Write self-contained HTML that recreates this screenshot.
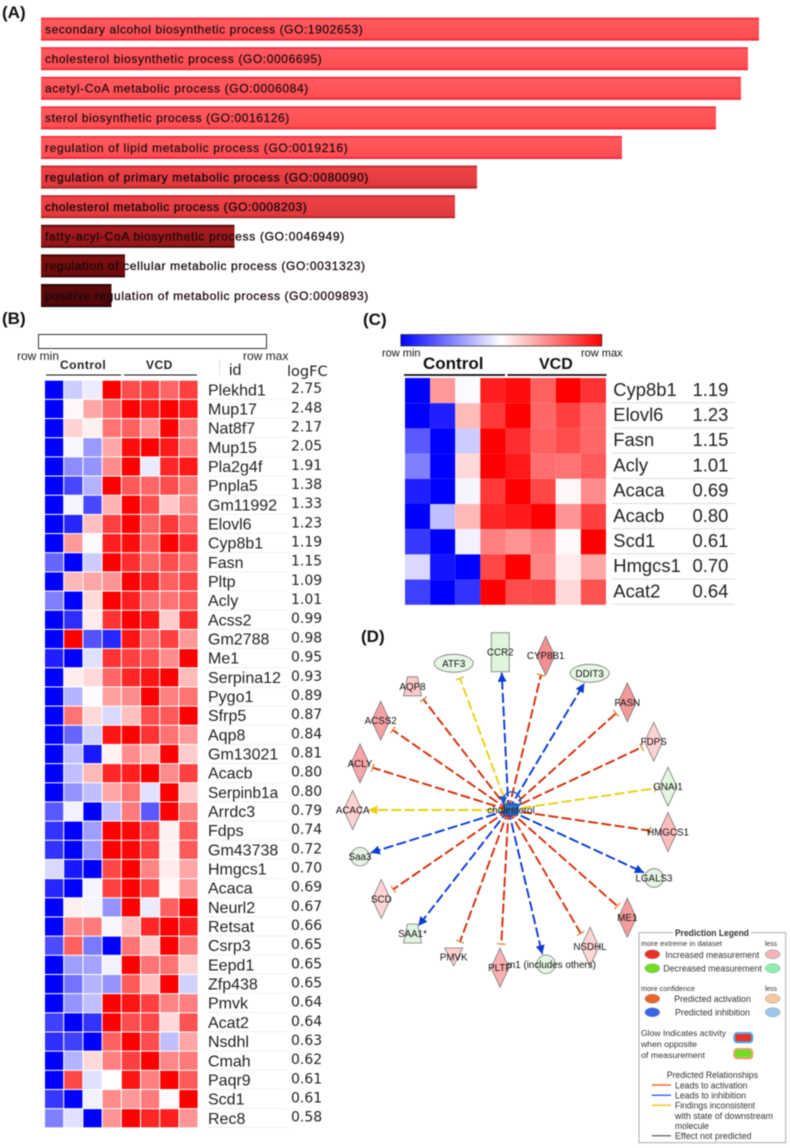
<!DOCTYPE html>
<html lang="en">
<head>
<meta charset="utf-8">
<title>Lipid metabolism enrichment, heatmaps and cholesterol network</title>
<style>
html,body{margin:0;padding:0;background:#fff;}
#figure{display:block;filter:blur(0.45px);font-family:"Liberation Sans",Arial,sans-serif;}
</style>
</head>
<body>
<svg id="figure" xmlns="http://www.w3.org/2000/svg" width="790" height="1148" viewBox="0 0 790 1148">
<defs>
<linearGradient id="tone-bright" x1="0" y1="0" x2="0" y2="1"><stop offset="0" stop-color="#f3102a"/><stop offset=".1" stop-color="#ff5a5e"/><stop offset=".88" stop-color="#ff4d52"/><stop offset="1" stop-color="#f3142c"/></linearGradient>
<linearGradient id="tone-mid" x1="0" y1="0" x2="0" y2="1"><stop offset="0" stop-color="#a81418"/><stop offset=".1" stop-color="#ee4246"/><stop offset=".88" stop-color="#e03a3e"/><stop offset="1" stop-color="#a81418"/></linearGradient>
<linearGradient id="tone-dark" x1="0" y1="0" x2="0" y2="1"><stop offset="0" stop-color="#300"/><stop offset=".12" stop-color="#a81c1e"/><stop offset=".88" stop-color="#96161a"/><stop offset="1" stop-color="#300"/></linearGradient>
<linearGradient id="tone-darker" x1="0" y1="0" x2="0" y2="1"><stop offset="0" stop-color="#200"/><stop offset=".12" stop-color="#7c0e10"/><stop offset=".88" stop-color="#6e0a0c"/><stop offset="1" stop-color="#200"/></linearGradient>
<linearGradient id="tone-darkest" x1="0" y1="0" x2="0" y2="1"><stop offset="0" stop-color="#100"/><stop offset=".12" stop-color="#5c0a0c"/><stop offset=".88" stop-color="#520709"/><stop offset="1" stop-color="#100"/></linearGradient>
<linearGradient id="blue-white-red" x1="0" y1="0" x2="1" y2="0"><stop offset="0" stop-color="#0000ff"/><stop offset=".5" stop-color="#ffffff"/><stop offset="1" stop-color="#ff0000"/></linearGradient>
</defs>
<g id="panel-a"></g>
<g id="panel-b"></g>
<g id="panel-c"></g>
<g id="panel-d"></g>
<g id="legend"></g>
</svg>
<script>
/* ---------- Panel A data ---------- */
var goTerms = [
 "secondary alcohol biosynthetic process (GO:1902653)",
 "cholesterol biosynthetic process (GO:0006695)",
 "acetyl-CoA metabolic process (GO:0006084)",
 "sterol biosynthetic process (GO:0016126)",
 "regulation of lipid metabolic process (GO:0019216)",
 "regulation of primary metabolic process (GO:0080090)",
 "cholesterol metabolic process (GO:0008203)",
 "fatty-acyl-CoA biosynthetic process (GO:0046949)",
 "regulation of cellular metabolic process (GO:0031323)",
 "positive regulation of metabolic process (GO:0009893)"
];
var goScores = [71.8, 70.7, 70.0, 67.5, 58.1, 43.6, 41.4, 19.35, 8.4, 7.05];
var goTones = ["bright","bright","bright","bright","bright","mid","mid","dark","darker","darkest"];
var goLabelWidths = [317.7, 276.7, 263.3, 244.3, 302.7, 323.3, 261.7, 299.3, 320, 323.3];

/* ---------- Panel B data ---------- */
var genesB = ["Plekhd1","Mup17","Nat8f7","Mup15","Pla2g4f","Pnpla5","Gm11992","Elovl6","Cyp8b1","Fasn","Pltp","Acly","Acss2","Gm2788","Me1","Serpina12","Pygo1","Sfrp5","Aqp8","Gm13021","Acacb","Serpinb1a","Arrdc3","Fdps","Gm43738","Hmgcs1","Acaca","Neurl2","Retsat","Csrp3","Eepd1","Zfp438","Pmvk","Acat2","Nsdhl","Cmah","Paqr9","Scd1","Rec8"];
var logFcB = ["2.75","2.48","2.17","2.05","1.91","1.38","1.33","1.23","1.19","1.15","1.09","1.01","0.99","0.98","0.95","0.93","0.89","0.87","0.84","0.81","0.80","0.80","0.79","0.74","0.72","0.70","0.69","0.67","0.66","0.65","0.65","0.65","0.64","0.64","0.63","0.62","0.61","0.61","0.58"];
var heatB = [
 [-1,-.2,-.08,1,.7,.75,.6,.75],
 [-1,.03,.35,.6,1,.9,1,.9],
 [-1,.18,.06,.55,.62,.42,1,.5],
 [-1,-.03,-.4,.35,.95,1,.9,.55],
 [-1,-.45,-.42,.45,1,-.08,.85,.9],
 [-1,-.72,-.3,1,.65,.6,.7,.55],
 [-1,-.04,-.72,.3,1,.7,.22,.5],
 [-1,-.85,.25,.75,1,.6,.78,.6],
 [-1,.4,-.02,.88,.95,.62,1,.8],
 [-.6,-1,-.2,1,.82,.6,.7,.6],
 [-1,.28,.35,.42,1,.85,.62,.72],
 [-.5,-1,.15,1,.88,.57,.55,.65],
 [-1,-.82,.08,.8,1,.9,.2,.82],
 [-1,1,-.68,-.85,.92,.6,.75,.4],
 [-.88,-1,-.12,.8,.75,.68,.45,1],
 [-1,.07,.15,.6,.85,.92,1,.27],
 [-1,-.3,-.01,.38,.45,1,.5,.55],
 [-1,.55,.15,-.15,.25,.7,.65,1],
 [-1,-.6,-.18,.92,1,.8,.55,.4],
 [-1,-.25,-.9,.05,.45,.3,1,.2],
 [-1,-.25,.28,.85,.88,1,.45,.75],
 [-1,-.42,-.25,.35,.55,-.12,1,.2],
 [-.65,-.05,-1,-.25,.52,-.65,1,.48],
 [-.8,-1,-.38,1,.98,.75,.06,.65],
 [-.8,-1,-.4,1,.98,.75,.05,.65],
 [-.15,-.9,-1,.72,1,.48,.08,.35],
 [-.85,-1,-.04,.75,1,.72,.03,.42],
 [-1,.06,-.04,-.42,1,-.08,.62,1],
 [-1,.48,.52,-.03,.25,.85,1,.88],
 [-.7,.62,-.52,-1,.55,.2,1,.52],
 [-1,-.38,-.36,-.05,1,.55,.55,.18],
 [-1,-.55,-.3,-.42,.65,.25,1,-.18],
 [-1,-.42,-.25,1,.92,.75,.48,.5],
 [-.75,-1,-.8,1,.7,.72,.15,.68],
 [-.82,-.75,-1,.62,1,.7,-.25,.35],
 [-1,-.3,.15,.5,.75,1,.47,.52],
 [-1,.72,-.12,0,.92,.5,1,.65],
 [-.78,-1,-.05,.45,.4,.52,.02,1],
 [-.5,-.12,-1,.42,1,.85,.88,.42]
];

/* ---------- Panel C data ---------- */
var genesC = ["Cyp8b1","Elovl6","Fasn","Acly","Acaca","Acacb","Scd1","Hmgcs1","Acat2"];
var logFcC = ["1.19","1.23","1.15","1.01","0.69","0.80","0.61","0.70","0.64"];
var heatC = [
 [-1,.4,-.02,.88,.95,.62,1,.8],
 [-1,-.88,.27,.78,1,.6,.75,.6],
 [-.65,-1,-.2,1,.82,.62,.7,.6],
 [-.5,-1,.15,1,.9,.57,.55,.65],
 [-.88,-1,-.04,.78,1,.72,.03,.45],
 [-1,-.25,.28,.85,.9,1,.42,.75],
 [-.78,-1,-.05,.5,.42,.52,.02,1],
 [-.15,-.92,-1,.72,1,.48,.08,.35],
 [-.75,-1,-.8,1,.7,.72,.15,.68]
];

var NS = "http://www.w3.org/2000/svg";
function make(parent, tag, attrs, text) {
  var el = document.createElementNS(NS, tag);
  for (var k in attrs) el.setAttribute(k, attrs[k]);
  if (text !== undefined) el.textContent = text;
  parent.appendChild(el);
  return el;
}
function heatColor(v) {
  var a = Math.round(255 * (1 - Math.abs(v)));
  return v < 0 ? "rgb(" + a + "," + a + ",255)" : "rgb(255," + a + "," + a + ")";
}
var root = document.getElementById("figure");

/* panel letters */
var panelLetters = [["(A)",2,18],["(B)",2,324],["(C)",363,325],["(D)",361,642]];
panelLetters.forEach(function (p) {
  var t = make(root, "text", {x:p[1], y:p[2], "font-size":17, "font-weight":"bold", fill:"#111"}, p[0]);
  
  
});

/* ---------- Panel A ---------- */
var pa = document.getElementById("panel-a");
var barX0 = 41, barPxPerUnit = 10, barTop = 17.6, barPitch = 29.6, barH = 23;
function xBar(v) { return v * barPxPerUnit; }
goTerms.forEach(function (term, i) {
  var y = barTop + i * barPitch;
  var bar = make(pa, "rect", {x:barX0, y:y, width:xBar(goScores[i]), height:barH, fill:"url(#tone-" + goTones[i] + ")"});
  
  
  var label = make(pa, "text", {x:45, y:y + 15.8, "font-size":12, textLength:goLabelWidths[i], lengthAdjust:"spacing", fill:"#1a0a0c", stroke:"#1a0a0c", "stroke-width": i < 5 ? 0.2 : (i < 7 ? 0.35 : 0.3)}, term);
  
  
});

/* ---------- Heatmap builder ---------- */
function heatmap(parent, data, x0, cw, y0, rh, gap, name) {
  data.forEach(function (row, r) {
    row.forEach(function (v, c) {
      var cell = make(parent, "rect", {x:x0 + c * cw, y:y0 + r * rh, width:cw - gap, height:rh - gap, fill:heatColor(v)});
      
      
    });
  });
}

/* ---------- Panel B ---------- */
var pb = document.getElementById("panel-b");
var bScale = make(pb, "rect", {x:38.5, y:334.5, width:228, height:14, fill:"#fff", stroke:"#333", "stroke-width":1});


var bTexts = [
 ["row min",17,360,12,"normal","Liberation Sans","color-scale-min"],
 ["row max",243,360,12,"normal","Liberation Sans","color-scale-max"],
 ["Control",60,369,12,"bold","Liberation Sans","group-label-control"],
 ["VCD",146,369,12,"bold","Liberation Sans","group-label-vcd"],
 ["id",229,375,16,"normal","Liberation Sans","id-column-header"],
 ["logFC",287,376,14.5,"normal","DejaVu Sans","logfc-column-header"]
];
bTexts.forEach(function (b) {
  var t = make(pb, "text", {x:b[1], y:b[2], "font-size":b[3], "font-weight":b[4], "font-family":'"' + b[5] + '",sans-serif', fill:"#222"}, b[0]);
  if (b[4] === "bold") t.setAttribute("letter-spacing", "0.5");
  
  
});
var bRules = [[46,121],[124,197]];
bRules.forEach(function (r) {
  var l = make(pb, "line", {x1:r[0], x2:r[1], y1:375, y2:375, stroke:"#111", "stroke-width":1.1});
  
  
});
var bTick = make(pb, "line", {x1:219.5, x2:219.5, y1:360, y2:375, stroke:"#ddd", "stroke-width":1});


var bX0 = 45, bCw = 19.2, bY0 = 380.7, bRh = 19.17;
heatmap(pb, heatB, bX0, bCw, bY0, bRh, 1, 'heatmap-cell');
genesB.forEach(function (g, i) {
  var y = bY0 + i * bRh;
  var sep = make(pb, "line", {x1:207, x2:288, y1:y + 18.5, y2:y + 18.5, stroke:"#f0f0f0", "stroke-width":1});
  
  
  var name = make(pb, "text", {x:208, y:y + 14.6, "font-size": g === "Serpinb1a" ? 15.4 : 16, fill:"#222"}, g);
  
  
  var val = make(pb, "text", {x:291, y:y + 12.5, "font-size":14, "font-family":'"DejaVu Sans",sans-serif', fill:"#222"}, logFcB[i]);
  
  
});

/* ---------- Panel C ---------- */
var pc = document.getElementById("panel-c");
var cScale = make(pc, "rect", {x:400.8, y:334.5, width:201, height:11.5, fill:"url(#blue-white-red)", stroke:"#333", "stroke-width":.8});


var cTexts = [
 ["row min",382,356.5,11,"normal","color-scale-min"],
 ["row max",581,356.5,11,"normal","color-scale-max"],
 ["Control",423,369,17,"bold","group-label-control"],
 ["VCD",539,369,16,"bold","group-label-vcd"]
];
cTexts.forEach(function (b) {
  var t = make(pc, "text", {x:b[1], y:b[2], "font-size":b[3], "font-weight":b[4], fill:"#111"}, b[0]);
  
  
});
var cRules = [[404,505],[507.5,606.5]];
cRules.forEach(function (r) {
  var l = make(pc, "line", {x1:r[0], x2:r[1], y1:375, y2:375, stroke:"#111", "stroke-width":1.8});
  
  
});
var cX0 = 405, cCw = 25.12, cY0 = 378, cRh = 25.2;
heatmap(pc, heatC, cX0, cCw, cY0, cRh, 0, 'heatmap-cell');
genesC.forEach(function (g, i) {
  var y = cY0 + i * cRh;
  var sep = make(pc, "line", {x1:612, x2:735, y1:y + 24.7, y2:y + 24.7, stroke:"#ddd", "stroke-width":1});
  
  
  var name = make(pc, "text", {x:613.3, y:y + 17.8, "font-size":18.4, fill:"#222"}, g);
  
  
  var val = make(pc, "text", {x:692.5, y:y + 17.8, "font-size":18.4, fill:"#222"}, logFcC[i]);
  
  
});

/* ---------- Panel D ---------- */
var pd = document.getElementById("panel-d");
var hub = {x:508.5, y:810};
var edgeColors = {red:"#d42c08", blue:"#0a3ad4", yellow:"#e8d010"};
/* label, shape, node x, node y, fill, edge colour, edge end type, edge end x, edge end y */
var networkNodes = [
 ["ATF3","ellipse",453.7,663.3,"#e6f6e4","yellow","T",460,678.3],
 ["CCR2","rect",500.3,652.2,"#dff5dc","blue","arrow",501.7,672.7],
 ["CYP8B1","diamond",545.7,655.7,"#f48e90","red","T",541,675],
 ["DDIT3","ellipse",589.7,673.3,"#e6f6e4","blue","arrow",584.3,683.3],
 ["FASN","diamond",627.3,702.3,"#f59a9c","red","T",616,713.3],
 ["FDPS","diamond",653.7,741.7,"#ffd2d2","red","T",641.7,747.3],
 ["GNAI1","diamond",668,786.7,"#e2f6e0","yellow","T",655,788.3],
 ["HMGCS1","diamond",668,832,"#ffbcbc","red","T",650,830.7],
 ["LGALS3","circle",654,878,"#e6f6e4","blue","arrow",644,872.7],
 ["ME1","diamond",627.3,917.7,"#f79c9e","red","T",617.3,906],
 ["NSDHL","diamond",590,946.7,"#ffd6d6","red","T",580.7,933.3],
 ["m1 (includes others)","circle",546,964.3,"#e6f6e4","blue","arrow",542.3,954.3],
 ["PLTP","diamond",500,967.7,"#fcb0b2","red","T",501.3,944],
 ["PMVK","triangle",453.7,957,"#ffd0d0","red","T",460,941.7],
 ["SAA1*","trapezoid",412.5,933.5,"#e2f5e0","blue","arrow",418.3,926],
 ["SCD","diamond",381.3,899,"#ffd6d6","red","T",393.3,889.3],
 ["Saa3","circle",360,856.7,"#e6f6e4","blue","arrow",370.7,852.7],
 ["ACACA","diamond",352.7,810,"#ffd2d2","yellow","arrow",368.3,810],
 ["ACLY","diamond",360,763.3,"#f9a4a6","red","T",372.7,767.7],
 ["ACSS2","diamond",380.7,720.7,"#f6a2a4","red","T",392.7,730],
 ["AQP8","trapezoid",412.5,686.3,"#ffcaca","red","T",423.3,699.3]
];
networkNodes.forEach(function (n) {
  var ex = n[7], ey = n[8];
  var dx = ex - hub.x, dy = ey - hub.y, len = Math.sqrt(dx * dx + dy * dy);
  var ux = dx / len, uy = dy / len;
  var edge = make(pd, "line", {x1:hub.x, y1:hub.y, x2:ex, y2:ey, stroke:edgeColors[n[5]], "stroke-width":1.9, "stroke-dasharray":"10 3.4"});
  
  
  if (n[6] === "T") {
    var tick = make(pd, "line", {x1:ex - uy * 4.2, y1:ey + ux * 4.2, x2:ex + uy * 4.2, y2:ey - ux * 4.2, stroke: n[5] === "yellow" ? "#d8b818" : "#d8802c", "stroke-width":1.2});
    
    
  } else {
    var bx = ex - ux * 9, by = ey - uy * 9;
    var pts = ex + "," + ey + " " + (bx - uy * 4.5) + "," + (by + ux * 4.5) + " " + (bx + uy * 4.5) + "," + (by - ux * 4.5);
    var head = make(pd, "polygon", {points:pts, fill:edgeColors[n[5]]});
    
    
  }
});
var hubLoop = make(pd, "circle", {cx:511.7, cy:800.7, r:8.8, fill:"none", stroke:"#1f5fd0", "stroke-width":1.5});


var hubHead = make(pd, "polygon", {points:"503.5,805 499,796 507,797", fill:"#1f4fd0"});


var hubBody = make(pd, "rect", {x:504, y:804, width:14, height:11, fill:"#2f73c4", stroke:"#1a52b8", "stroke-width":1});


var hubLabel = make(pd, "text", {x:511, y:813.5, "font-size":9.8, "text-anchor":"middle", fill:"#111"}, "cholesterol");



networkNodes.forEach(function (n) {
  var x = n[2], y = n[3], shape, base = {fill:n[4], stroke:"#777", "stroke-width":.8};
  if (n[1] === "ellipse") { base.cx = x; base.cy = y; base.rx = 19.5; base.ry = 9; shape = make(pd, "ellipse", base); }
  else if (n[1] === "circle") { base.cx = x; base.cy = y; base.r = 9.3; shape = make(pd, "circle", base); }
  else if (n[1] === "rect") { base.x = x - 9; base.y = y - 19.5; base.width = 18; base.height = 39; shape = make(pd, "rect", base); }
  else if (n[1] === "diamond") { base.points = x + "," + (y - 19.5) + " " + (x + 9) + "," + y + " " + x + "," + (y + 19.5) + " " + (x - 9) + "," + y; shape = make(pd, "polygon", base); }
  else if (n[1] === "triangle") { base.points = (x - 9) + "," + (y - 9) + " " + (x + 9) + "," + (y - 9) + " " + x + "," + (y + 9); shape = make(pd, "polygon", base); }
  else { base.points = (x - 5) + "," + (y - 9.5) + " " + (x + 5) + "," + (y - 9.5) + " " + (x + 9) + "," + (y + 9.5) + " " + (x - 9) + "," + (y + 9.5); shape = make(pd, "polygon", base); }
  
  
  var lx = n[0].charAt(0) === "m" ? 551.5 : x;
  var label = make(pd, "text", {x:lx, y:y + 3.5, "font-size":9.8, "text-anchor":"middle", fill:"#111"}, n[0]);
  
  
});

/* ---------- Legend ---------- */
var lg = document.getElementById("legend");
var lgBox = make(lg, "rect", {x:639, y:932.7, width:146.7, height:210, fill:"#fff", stroke:"#aaa", "stroke-width":1});


var lgTitleBg = make(lg, "rect", {x:673, y:928, width:78, height:10, fill:"#fff"});


var legendTexts = [
 ["Prediction Legend",675,936,9.2,"bold",74],
 ["more extreme in dataset",641,946,7.4,"normal",81],
 ["less",765,946,7.4,"normal",12],
 ["Increased measurement",665.3,958,8.8,"normal",94],
 ["Decreased measurement",663.3,971.5,8.8,"normal",98.5],
 ["more confidence",641,991,7.4,"normal",54],
 ["less",765,991,7.4,"normal",12],
 ["Predicted activation",674.3,1002,8.8,"normal",76.5],
 ["Predicted inhibition",675,1015.5,8.8,"normal",75],
 ["Glow Indicates activity",641,1036,8.6,"normal",85],
 ["when opposite",641,1047,8.6,"normal",56],
 ["of measurement",641,1058,8.6,"normal",64],
 ["Predicted Relationships",666.7,1078,8.8,"normal",91.3],
 ["Leads to activation",675,1088.5,8.8,"normal",72.5],
 ["Leads to inhibition",675,1098.5,8.8,"normal",71],
 ["Findings inconsistent",675,1108.5,8.8,"normal",80],
 ["with state of downstream",675,1119,8.8,"normal",98],
 ["molecule",675,1129,8.8,"normal",34],
 ["Effect not predicted",675,1139,8.8,"normal",76.5]
];
legendTexts.forEach(function (t) {
  var e = make(lg, "text", {x:t[1], y:t[2], "font-size":t[3], "font-weight":t[4], textLength:t[5], lengthAdjust:"spacingAndGlyphs", fill:"#333"}, t[0]);
  
  
});
var legendSwatches = [
 [652.3,954.3,"#e8332a"],[772.7,954.3,"#f0b4b8"],
 [652.3,968.3,"#6fe021"],[772.7,968.3,"#8df0b0"],
 [652.3,998.7,"#e8662a"],[772.7,998.7,"#f5c8a0"],
 [652.3,1012.3,"#3a66e8"],[772.7,1012.3,"#9cc8f0"]
];
legendSwatches.forEach(function (s) {
  var e = make(lg, "ellipse", {cx:s[0], cy:s[1], rx:7.5, ry:4.6, fill:s[2], stroke:"#999", "stroke-width":.5});
  
  
});
var legendGlows = [[1037.7,"#e8332a","#4ab0f0"],[1053.7,"#6fe021","#f0a070"]];
legendGlows.forEach(function (g) {
  var e = make(lg, "rect", {x:734.3, y:g[0] - 4.7, width:18, height:9.4, rx:3, fill:g[1], stroke:g[2], "stroke-width":2});
  
  
});
var legendLines = [[1085,"#f07030"],[1095.3,"#3a70f0"],[1105.3,"#f5c820"],[1135.7,"#777"]];
legendLines.forEach(function (l) {
  var e = make(lg, "line", {x1:651.7, x2:671, y1:l[0], y2:l[0], stroke:l[1], "stroke-width":1.5});
  
  
});
</script>
</body>
</html>
